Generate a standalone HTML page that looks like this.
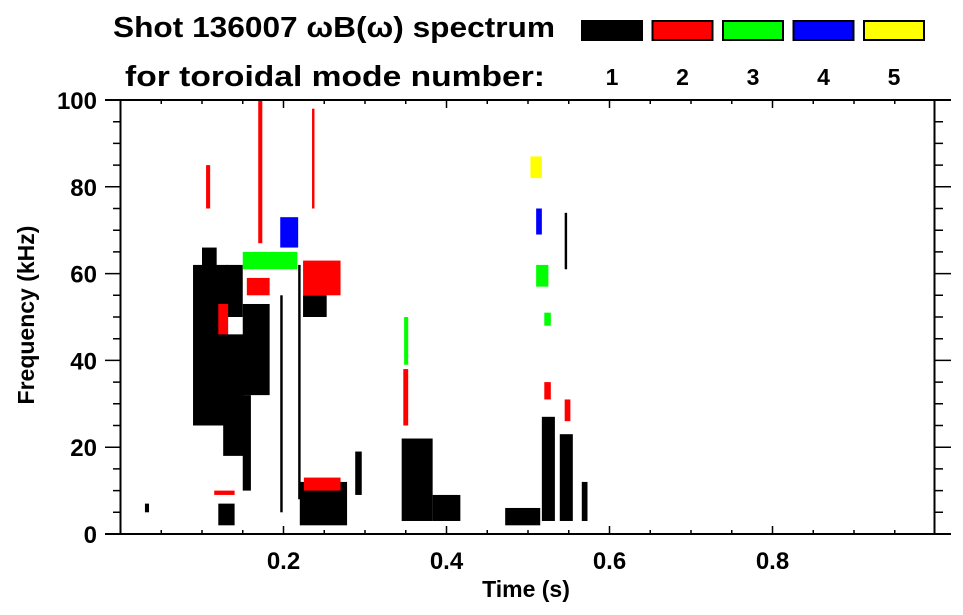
<!DOCTYPE html>
<html><head><meta charset="utf-8"><style>
html,body{margin:0;padding:0;background:#fff;}
svg{display:block;font-family:"Liberation Sans",sans-serif;font-weight:bold;}
</style></head><body>
<svg id="chart" width="963" height="615" viewBox="0 0 963 615" xmlns="http://www.w3.org/2000/svg">
<rect x="0" y="0" width="963" height="615" fill="#fff"/>
<text x="113" y="37" font-size="29" textLength="442" lengthAdjust="spacingAndGlyphs">Shot 136007 ωB(ω) spectrum</text>
<text x="125" y="86" font-size="29" textLength="420" lengthAdjust="spacingAndGlyphs">for toroidal mode number:</text>
<g id="legend"></g>
<g id="marks"></g>
<g id="axes"></g>
<text transform="translate(34,315) rotate(-90)" text-anchor="middle" font-size="23">Frequency (kHz)</text>
<text x="526" y="597" text-anchor="middle" font-size="23">Time (s)</text>
</svg>
<script>
const modes = [1, 2, 3, 4, 5];
const modeColors = ["#000000", "#ff0000", "#00ff00", "#0000ff", "#ffff00"];
const xTickValues = [0.2, 0.4, 0.6, 0.8];
const xTickLabels = ["0.2", "0.4", "0.6", "0.8"];
const yTickValues = [0, 20, 40, 60, 80, 100];
const yTickLabels = ["0", "20", "40", "60", "80", "100"];
// spectral patches: time start, time end, freq low, freq high (kHz), mode number
const patchT0 = [0.089,0.126,0.150,0.150,0.196,0.218,0.224,0.220,0.120,0.030,0.288,0.345,0.383,0.517,0.539,0.566,0.472,0.545,0.100,0.130,
                 0.155,0.120,0.169,0.224,0.225,0.115,0.347,0.520,0.545,0.105,0.235,
                 0.150,0.348,0.510,0.520,
                 0.196,0.510,
                 0.503];
const patchT1 = [0.132,0.151,0.183,0.160,0.199,0.221,0.253,0.278,0.140,0.035,0.296,0.383,0.417,0.533,0.555,0.573,0.515,0.548,0.118,0.150,
                 0.183,0.132,0.174,0.270,0.270,0.140,0.353,0.528,0.552,0.110,0.238,
                 0.217,0.353,0.525,0.528,
                 0.218,0.517,
                 0.517];
const patchF0 = [25,18,32,10,5,8,50,2,2,5,9,3,3,3,3,3,2,61,60,50,
                 55,46,67,55,10,9,25,31,26,75,75,
                 61,39,57,48,
                 66,69,
                 82];
const patchF1 = [62,46,53,32,55,62,55,12,7,7,19,22,9,27,23,12,6,74,66,62,
                 59,53,100,63,13,10,38,35,31,85,98,
                 65,50,62,51,
                 73,75,
                 87];
const patchMode = [1,1,1,1,1,1,1,1,1,1,1,1,1,1,1,1,1,1,1,1,
                   2,2,2,2,2,2,2,2,2,2,2,
                   3,3,3,3,
                   4,4,
                   5];

const NS = "http://www.w3.org/2000/svg";
const X0 = 120.5, X1 = 935.5, Y0 = 534, Y1 = 100;
function xScale(t){ return X0 + (t - 0) / (1.0 - 0) * (X1 - X0); }
function yScale(f){ return Y0 - (f - 0) / (100 - 0) * (Y0 - Y1); }
function mk(tag, attrs, parent){
  const e = document.createElementNS(NS, tag);
  for (const k in attrs) e.setAttribute(k, attrs[k]);
  parent.appendChild(e);
  return e;
}
const marks = document.getElementById("marks");
for (let i = 0; i < patchT0.length; i++) {
  const x = xScale(patchT0[i]), x2 = xScale(patchT1[i]);
  const y = yScale(patchF1[i]), y2 = yScale(patchF0[i]);
  const r = mk("rect", {x: x, y: y, width: Math.max(1, x2 - x), height: Math.max(1, y2 - y), fill: modeColors[patchMode[i] - 1]}, marks);
  
  
}

const legend = document.getElementById("legend");
for (let i = 0; i < modes.length; i++) {
  const bx = 582 + i * 70.5;
  const box = mk("rect", {x: bx, y: 21, width: 60, height: 19, fill: modeColors[i], stroke: "#000", "stroke-width": 2}, legend);
  
  
  const lt = mk("text", {x: bx + 30, y: 85, "text-anchor": "middle", "font-size": 23}, legend);
  lt.textContent = String(modes[i]);
  
  
}

const axes = document.getElementById("axes");
const frame = mk("path", {d: `M105,${Y1}H951 M105,${Y0}H951 M${X0},${Y1}V${Y0} M934.5,${Y1}V${Y0}`, stroke: "#000", "stroke-width": 2, fill: "none"}, axes);


let d = "";
for (let f = 5; f < 100; f += 5) {
  const y = yScale(f), major = f % 20 === 0;
  d += `M${major ? 105 : 113},${y}H${X0} M934.5,${y}H${major ? 951 : 943} `;
}
for (let t = 0.05; t < 1.0; t += 0.05) {
  const x = xScale(t), major = Math.abs(t * 10 % 2) < 0.01 || Math.abs(t * 10 % 2 - 2) < 0.01;
  d += `M${x},${Y0}V${Y0 - (major ? 8 : 4)} M${x},${Y1}V${Y1 + (major ? 8 : 4)} `;
}
const ticks = mk("path", {d: d, stroke: "#000", "stroke-width": 1.5, fill: "none"}, axes);


for (let i = 0; i < yTickValues.length; i++) {
  const tt = mk("text", {x: 97, y: yScale(yTickValues[i]) + 9, "text-anchor": "end", "font-size": 24}, axes);
  tt.textContent = yTickLabels[i];
  
  
}
for (let i = 0; i < xTickValues.length; i++) {
  const tt = mk("text", {x: xScale(xTickValues[i]), y: 569, "text-anchor": "middle", "font-size": 24}, axes);
  tt.textContent = xTickLabels[i];
  
  
}
</script>
</body></html>
